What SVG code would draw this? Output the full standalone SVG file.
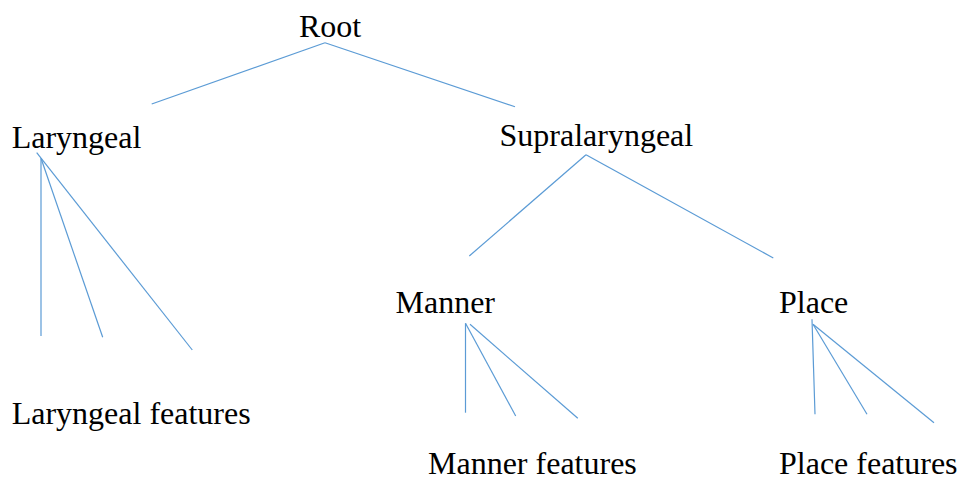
<svg xmlns="http://www.w3.org/2000/svg" width="960" height="481" viewBox="0 0 960 481">
  <style>
    .label { font-family: "Liberation Serif", "Times New Roman", serif; font-size: 32px; fill: #000; }
    .edge { stroke: #5B9BD5; stroke-width: 1.2; fill: none; }
  </style>
  <rect width="960" height="481" fill="#fff"/>

  <g id="connectors">
    <!-- Root branches -->
    <line class="edge" x1="325" y1="42.7" x2="151.7" y2="104"/>
    <line class="edge" x1="325" y1="42.7" x2="515" y2="106.7"/>
    <!-- Laryngeal fan -->
    <line class="edge" x1="41" y1="158.3" x2="41" y2="336"/>
    <line class="edge" x1="41" y1="158.3" x2="102.7" y2="337.3"/>
    <line class="edge" x1="36.7" y1="152.7" x2="192.3" y2="350"/>
    <!-- Supralaryngeal branches -->
    <line class="edge" x1="586" y1="154.7" x2="469.3" y2="256"/>
    <line class="edge" x1="586" y1="154.7" x2="773.3" y2="258"/>
    <!-- Manner fan -->
    <line class="edge" x1="465.5" y1="323.3" x2="465.5" y2="412.7"/>
    <line class="edge" x1="465.5" y1="323.3" x2="515.7" y2="416"/>
    <line class="edge" x1="470" y1="324.3" x2="577.8" y2="418.3"/>
    <!-- Place fan -->
    <line class="edge" x1="812" y1="319.3" x2="815" y2="414.3"/>
    <line class="edge" x1="813" y1="324.3" x2="867" y2="414.3"/>
    <line class="edge" x1="813" y1="324.3" x2="934" y2="422.7"/>
  </g>

  <g id="root"><text class="label" x="299" y="37">Root</text></g>
  <g id="laryngeal"><text class="label" x="11.7" y="148.3">Laryngeal</text></g>
  <g id="supralaryngeal"><text class="label" x="499.5" y="146.3">Supralaryngeal</text></g>
  <g id="manner"><text class="label" x="395.5" y="313.3">Manner</text></g>
  <g id="place"><text class="label" x="779" y="313.3">Place</text></g>
  <g id="laryngeal-features"><text class="label" x="11.7" y="424.3">Laryngeal features</text></g>
  <g id="manner-features"><text class="label" x="428" y="474">Manner features</text></g>
  <g id="place-features"><text class="label" x="779" y="474">Place features</text></g>
</svg>
